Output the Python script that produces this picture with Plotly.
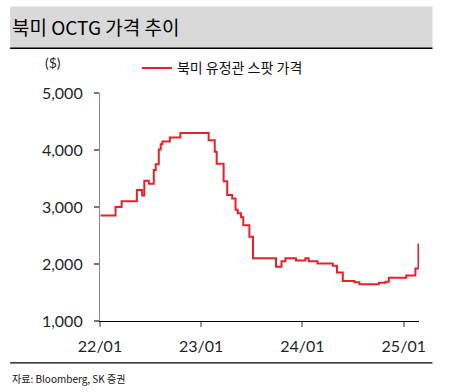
import plotly.graph_objects as go

dates = ["2022-01-03", "2022-02-26", "2022-03-20", "2022-05-14", "2022-06-02", "2022-06-10",
         "2022-06-26", "2022-07-14", "2022-07-21", "2022-08-01", "2022-08-08", "2022-08-14",
         "2022-09-10", "2022-10-18", "2023-01-28", "2023-02-19", "2023-02-26", "2023-03-23",
         "2023-04-05", "2023-04-23", "2023-05-05", "2023-05-13", "2023-05-25", "2023-06-02",
         "2023-06-24", "2023-07-07", "2023-09-28", "2023-10-18", "2023-11-01", "2023-12-09",
         "2024-01-12", "2024-01-24", "2024-02-25", "2024-04-20", "2024-05-05", "2024-05-26",
         "2024-07-07", "2024-07-25", "2024-10-03", "2024-10-27", "2024-11-08", "2025-01-10",
         "2025-02-12", "2025-02-23"]
prices = [2850, 3000, 3100, 3300, 3200, 3460,
          3410, 3650, 3750, 4010, 4100, 4150,
          4220, 4300, 4170, 3970, 3760, 3450,
          3210, 3150, 2950, 2890, 2820, 2680,
          2480, 2100, 1950, 2050, 2100, 2060,
          2100, 2050, 2010, 1970, 1850, 1700,
          1680, 1645, 1670, 1690, 1760, 1800,
          1920, 2360]

series_name = "북미 유정관 스팟 가격"
title_text = "북미 OCTG 가격 추이"
source_text = "자료: Bloomberg, SK 증권"
unit_text = "($)"
y_ticks = [1000, 2000, 3000, 4000, 5000]
y_ticklabels = ["1,000", "2,000", "3,000", "4,000", "5,000"]
x_ticks = ["2022-01-01", "2023-01-01", "2024-01-01", "2025-01-01"]
x_ticklabels = ["22/01", "23/01", "24/01", "25/01"]

W, H = 461, 392
L, R, T, B = 100, 419.5, 92.7, 321.0

def px(x):
    return (x - L) / (R - L)

def py(y):
    return (B - y) / (B - T)

fig = go.Figure()
fig.add_trace(go.Scatter(
    x=dates, y=prices, mode="lines", name=series_name,
    line=dict(color="#e8202a", width=2, shape="hv"),
))

tick_font = dict(family="Lato, Noto Sans, sans-serif", size=16, color="#1f1f2b")

fig.update_layout(
    width=W, height=H,
    margin=dict(l=L, r=W - R, t=T, b=H - B, pad=0),
    paper_bgcolor="white", plot_bgcolor="white",
    showlegend=True,
    legend=dict(x=px(137), y=py(68), xanchor="left", yanchor="middle",
                bgcolor="rgba(0,0,0,0)", font=dict(family="Noto Sans CJK KR", size=14, color="#111"),
                itemwidth=30),
    xaxis=dict(
        range=["2022-01-01", "2025-02-25"], tickvals=x_ticks, ticktext=x_ticklabels,
        showgrid=False, zeroline=False, showline=True, linecolor="#000", linewidth=1.2,
        ticks="outside", ticklen=5, tickcolor="#999", tickwidth=1.5,
        tickfont=tick_font, ticklabelstandoff=6,
    ),
    yaxis=dict(
        range=[1000, 5000], tickvals=y_ticks, ticktext=y_ticklabels,
        showgrid=False, zeroline=False, showline=True, linecolor="#888", linewidth=1.2,
        ticks="outside", ticklen=5, tickcolor="#777", tickwidth=1.5,
        tickfont=tick_font, ticklabelstandoff=8,
    ),
    shapes=[
        dict(type="rect", xref="paper", yref="paper", x0=px(10), x1=px(433), y0=py(6), y1=py(48),
             fillcolor="#d9d9d9", line=dict(width=0), layer="below"),
        dict(type="line", xref="paper", yref="paper", x0=px(10), x1=px(433), y0=py(48), y1=py(48),
             line=dict(color="#000", width=1.5)),
        dict(type="line", xref="paper", yref="paper", x0=px(10), x1=px(433), y0=py(363), y1=py(363),
             line=dict(color="#000", width=1.2)),
    ],
    annotations=[
        dict(text=title_text, xref="paper", yref="paper", x=px(10), y=py(26), xanchor="left",
             yanchor="middle", showarrow=False,
             font=dict(family="Noto Sans CJK KR", size=19, color="#000")),
        dict(text=unit_text, xref="paper", yref="paper", x=px(53), y=py(62), xanchor="center",
             yanchor="middle", showarrow=False,
             font=dict(family="Lato, Noto Sans", size=14, color="#1f1f2b")),
        dict(text=source_text, xref="paper", yref="paper", x=px(10), y=py(379), xanchor="left",
             yanchor="middle", showarrow=False,
             font=dict(family="Noto Sans CJK KR", size=10, color="#111")),
    ],
)

fig.write_html("out.html", config={"displayModeBar": False},
               post_script="document.body.style.margin='0';")
